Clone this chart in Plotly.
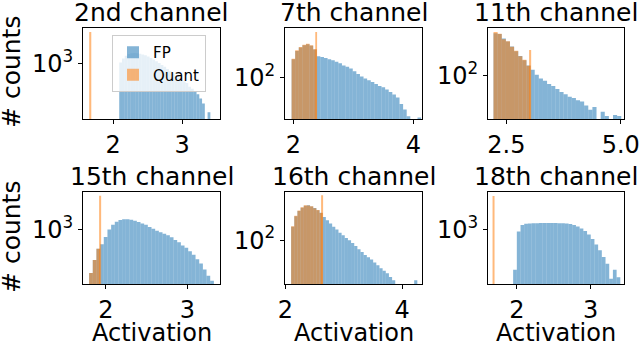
import plotly.graph_objects as go

titles = ["2nd channel", "7th channel", "11th channel",
          "15th channel", "16th channel", "18th channel"]

# FP histograms: left edge of first bin, bin width, counts per bin
fp_start = [2.09, 1.97, 2.22, 1.795, 2.10, 1.95]
fp_width = [0.04, 0.06, 0.09, 0.045, 0.054, 0.05]
fp_counts = [
    [1050, 1180, 1280, 1350, 1390, 1400, 1390, 1370, 1330, 1300, 1260, 1200,
     1150, 1090, 1030, 970, 920, 860, 800, 750, 700, 660, 620, 590, 560, 500,
     470, 440, 400, 350, 300, 160, 230, 180],
    [175, 225, 250, 268, 277, 265, 235, 192, 188, 182, 176, 170, 163, 155, 145,
     140, 132, 122, 112, 104, 98, 93, 88, 83, 78, 75, 70, 65, 60, 55, 45, 38, 31,
     None, None, 30],
    [360, 350, 305, 280, 240, 208, 180, 158, 135, 118, 102, 91, 85, 77, 72, 66,
     60, 56, 52, 50, 47, 45, 40, 35, 38, None, 33, 29, None, 30, 29],
    [270, 400, 560, 640, 800, 1000, 1150, 1260, 1330, 1360, 1360, 1340, 1300,
     1250, 1200, 1150, 1080, 1020, 960, 920, 880, 840, 790, 730, 680, 620, 580,
     520, 470, 410, 360, 300, 250, 215],
    [150, 205, 240, 265, 282, 285, 275, 262, 245, 228, 200, 182, 165, 150, 138,
     125, 116, 107, 100, 92, 84, 76, 70, 64, 60, 56, 51, 47, 43, 40, 37, 33, 30,
     None, None, None, None, None, None, 30],
    [300, 950, 1150, 1200, 1210, 1220, 1220, 1225, 1225, 1225, 1225, 1225, 1220,
     1215, 1210, 1190, 1150, 1100, 1040, 960, 870, 760, 640, 540, 440, 360, 230,
     300, 240],
]

# Quantized histograms share the FP bins at the low end, plus one tall spike
q_counts = [
    [],
    [178, 230, 255, 272, 280, 268, 238],
    [372, 352, 300, 282, 238, 210, 178, 160, 134],
    [270, 400, 560],
    [152, 208, 243, 268, 285, 283, 277, 260, 247, 226],
    [],
]
q_spike_x = [1.67, 2.38, 3.02, 1.93, 2.63, 1.685]
q_spike_count = [2650, 400, 215, 2750, 385, 2760]
q_spike_width = [0.03, 0.03, 0.045, 0.025, 0.034, 0.027]

x_ranges = [[1.565, 3.55], [1.86, 4.145], [2.10, 5.07],
            [1.72, 3.40], [1.995, 4.34], [1.61, 3.45]]
y_ranges = [[2.274, 3.475], [1.456, 2.656], [1.423, 2.624],
            [2.289, 3.489], [1.428, 2.628], [2.292, 3.493]]
x_ticks = [[2, 3], [2, 4], [2.5, 5.0], [2, 3], [2, 4], [2, 3]]
x_ticktext = [["2", "3"], ["2", "4"], ["2.5", "5.0"],
              ["2", "3"], ["2", "4"], ["2", "3"]]
y_ticks = [1000, 100, 100, 1000, 100, 1000]
y_ticktext = ["10<sup>3</sup>", "10<sup>2</sup>", "10<sup>2</sup>",
              "10<sup>3</sup>", "10<sup>2</sup>", "10<sup>3</sup>"]

W, H = 640, 343
cols_px = [(83, 220), (285, 422), (488, 624)]
rows_px = [(28, 119), (192, 284)]

FONT = "DejaVu Sans"
blue = "rgba(31,119,180,0.55)"
orange = "rgba(255,127,14,0.55)"

fig = go.Figure()
layout = dict(width=W, height=H, margin=dict(l=0, r=0, t=0, b=0),
              plot_bgcolor="white", paper_bgcolor="white",
              barmode="overlay", showlegend=True,
              font=dict(family=FONT, size=24, color="black"))
annotations = []

for i in range(6):
    r, c = divmod(i, 3)
    n = i + 1
    xa = "x" if n == 1 else f"x{n}"
    ya = "y" if n == 1 else f"y{n}"
    x0, x1 = cols_px[c]
    y0, y1 = rows_px[r]
    xdom = [x0 / W, x1 / W]
    ydom = [1 - y1 / H, 1 - y0 / H]

    w = fp_width[i]
    fx = [fp_start[i] + w * (k + 0.5) for k in range(len(fp_counts[i]))]
    fig.add_trace(go.Bar(x=fx, y=fp_counts[i], width=w, xaxis=xa, yaxis=ya,
                         marker=dict(color=blue, line=dict(width=0)),
                         name="FP", showlegend=(i == 0), legendrank=1))
    if q_counts[i]:
        qx = [fp_start[i] + w * (k + 0.5) for k in range(len(q_counts[i]))]
        fig.add_trace(go.Bar(x=qx, y=q_counts[i], width=w, xaxis=xa, yaxis=ya,
                             marker=dict(color=orange, line=dict(width=0)),
                             name="Quant", showlegend=False))
    fig.add_trace(go.Bar(x=[q_spike_x[i]], y=[q_spike_count[i]],
                         width=q_spike_width[i], xaxis=xa, yaxis=ya,
                         marker=dict(color=orange, line=dict(width=0)),
                         name="Quant", showlegend=(i == 0), legendrank=2))

    axis_common = dict(showline=True, mirror=True, linecolor="black", linewidth=1,
                       ticks="outside", ticklen=4, tickwidth=1, tickcolor="black",
                       showgrid=False, zeroline=False, automargin=False,
                       tickfont=dict(family=FONT, size=24, color="black"))
    layout["xaxis" if n == 1 else f"xaxis{n}"] = dict(
        domain=xdom, anchor=ya, range=x_ranges[i],
        tickvals=x_ticks[i], ticktext=x_ticktext[i], **axis_common)
    layout["yaxis" if n == 1 else f"yaxis{n}"] = dict(
        domain=ydom, anchor=xa, type="log", range=y_ranges[i],
        tickvals=[y_ticks[i]], ticktext=[y_ticktext[i]], **axis_common)

    annotations.append(dict(text=titles[i], x=(xdom[0] + xdom[1]) / 2, y=ydom[1],
                            xref="paper", yref="paper", xanchor="center",
                            yanchor="bottom", showarrow=False, yshift=-1,
                            font=dict(family=FONT, size=25, color="black")))
    if r == 1:
        annotations.append(dict(text="Activation", x=(xdom[0] + xdom[1]) / 2,
                                y=0, xref="paper", yref="paper",
                                showarrow=False, xanchor="center",
                                yanchor="bottom", yshift=-6,
                                font=dict(family=FONT, size=24, color="black")))

for cy in (72, 237):
    annotations.append(dict(text="# counts", x=11 / W, y=1 - cy / H,
                            xref="paper", yref="paper", textangle=-90,
                            showarrow=False, xanchor="center", yanchor="middle",
                            font=dict(family=FONT, size=25, color="black")))

layout["annotations"] = annotations
layout["legend"] = dict(x=112 / W, y=1 - 35 / H, xanchor="left", yanchor="top",
                        bgcolor="rgba(255,255,255,0.8)", bordercolor="#cccccc",
                        borderwidth=1, font=dict(family=FONT, size=15),
                        tracegroupgap=0, itemwidth=30)

fig.update_layout(**layout)
fig.write_html("out.html", config={"displayModeBar": False},
               post_script="document.body.style.margin='0';"
                           "document.body.style.overflow='hidden';")
